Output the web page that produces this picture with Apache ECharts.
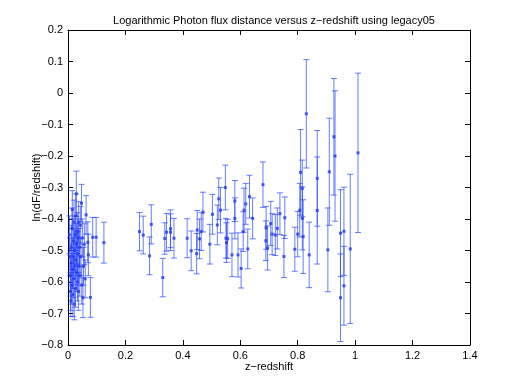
<!DOCTYPE html>
<html>
<head>
<meta charset="utf-8">
<script src="https://cdn.jsdelivr.net/npm/echarts@6/dist/echarts.min.js"></script>
<style>
  html, body { margin: 0; padding: 0; background: #fff; }
  #chart { width: 518px; height: 389px; }
</style>
</head>
<body>
<div id="chart"></div>
<script>
// z-redshift, ln(dF/redshift) and error half-widths
const zRedshift = [
  0.005, 0.007, 0.008, 0.009, 0.010, 0.011, 0.012, 0.013, 0.014, 0.015,
  0.016, 0.017, 0.018, 0.019, 0.020, 0.021, 0.022, 0.023, 0.024, 0.025,
  0.026, 0.027, 0.028, 0.029, 0.030, 0.031, 0.032, 0.033, 0.034, 0.035,
  0.036, 0.037, 0.038, 0.040, 0.041, 0.043, 0.045, 0.047, 0.048, 0.050,
  0.052, 0.054, 0.057, 0.060, 0.063, 0.069, 0.071, 0.078, 0.086, 0.098,
  0.125,
  0.249, 0.262, 0.290, 0.284, 0.330, 0.337, 0.343, 0.357, 0.357, 0.369,
  0.415, 0.429, 0.448, 0.450, 0.458, 0.464, 0.470, 0.494, 0.503, 0.520,
  0.525, 0.531, 0.548, 0.550, 0.552, 0.556, 0.571, 0.581, 0.581, 0.592,
  0.603, 0.610, 0.613, 0.619, 0.626, 0.632, 0.643, 0.679, 0.690, 0.689,
  0.695, 0.706, 0.711, 0.722, 0.729, 0.738,
  0.752, 0.755, 0.790, 0.800, 0.807, 0.810, 0.816, 0.816, 0.819, 0.830,
  0.840, 0.868, 0.868, 0.905, 0.910, 0.926, 0.930, 0.949, 0.961, 0.949,
  0.961, 0.983, 1.010
];
const lnFlux = [
  -0.45, -0.52, -0.58, -0.63, -0.66, -0.54, -0.49, -0.61, -0.43, -0.37,
  -0.56, -0.64, -0.47, -0.52, -0.59, -0.41, -0.67, -0.50, -0.55, -0.45,
  -0.62, -0.39, -0.53, -0.32, -0.48, -0.57, -0.44, -0.60, -0.51, -0.46,
  -0.63, -0.41, -0.55, -0.49, -0.58, -0.42, -0.52, -0.35, -0.61, -0.46,
  -0.65, -0.55, -0.48, -0.59, -0.387, -0.474, -0.514, -0.649, -0.458, -0.458,
  -0.475,
  -0.440, -0.451, -0.417, -0.517, -0.586, -0.462, -0.442, -0.431, -0.442, -0.461,
  -0.461, -0.501, -0.510, -0.435, -0.463, -0.440, -0.378, -0.480, -0.385, -0.419,
  -0.336, -0.372, -0.300, -0.461, -0.475, -0.463, -0.514, -0.343, -0.398, -0.514,
  -0.557, -0.440, -0.372, -0.352, -0.495, -0.329, -0.398, -0.291, -0.428, -0.469,
  -0.492, -0.414, -0.448, -0.451, -0.430, -0.383,
  -0.519, -0.396, -0.496, -0.448, -0.372, -0.252, -0.303, -0.398, -0.456, -0.066,
  -0.514, -0.271, -0.373, -0.498, -0.250, -0.139, -0.200, -0.445, -0.439, -0.650,
  -0.612, -0.495, -0.190
];
const errHalf = [
  0.060, 0.060, 0.065, 0.060, 0.050, 0.060, 0.070, 0.060, 0.065, 0.060,
  0.060, 0.070, 0.070, 0.060, 0.060, 0.070, 0.050, 0.065, 0.060, 0.060,
  0.060, 0.070, 0.060, 0.072, 0.065, 0.060, 0.060, 0.060, 0.070, 0.060,
  0.060, 0.065, 0.060, 0.060, 0.065, 0.060, 0.060, 0.060, 0.060, 0.060,
  0.063, 0.060, 0.065, 0.060, 0.061, 0.065, 0.066, 0.063, 0.063, 0.063,
  0.065,
  0.061, 0.060, 0.062, 0.060, 0.061, 0.050, 0.060, 0.060, 0.058, 0.063,
  0.062, 0.063, 0.064, 0.062, 0.063, 0.060, 0.063, 0.063, 0.063, 0.063,
  0.066, 0.072, 0.071, 0.063, 0.063, 0.062, 0.069, 0.065, 0.065, 0.070,
  0.062, 0.063, 0.070, 0.065, 0.063, 0.068, 0.065, 0.072, 0.068, 0.063,
  0.070, 0.070, 0.065, 0.065, 0.065, 0.066,
  0.067, 0.066, 0.070, 0.072, 0.085, 0.136, 0.090, 0.100, 0.117, 0.172,
  0.104, 0.152, 0.170, 0.133, 0.170, 0.185, 0.207, 0.138, 0.140, 0.139,
  0.125, 0.237, 0.253
];

const xTicks = [0, 0.2, 0.4, 0.6, 0.8, 1, 1.2, 1.4];
const yTicks = [-0.8, -0.7, -0.6, -0.5, -0.4, -0.3, -0.2, -0.1, 0, 0.1, 0.2];

const barColor = 'rgba(40, 70, 255, 0.7)';
const dotColor = '#2038f0';
const fontFamily = '"Liberation Sans", Arial, Helvetica, sans-serif';

const errData = zRedshift.map((z, i) => [z, lnFlux[i] - errHalf[i], lnFlux[i] + errHalf[i]]);
const pointData = zRedshift.map((z, i) => [z, lnFlux[i]]);

function fmt(v) {
  const s = String(Math.round(v * 10) / 10);
  return s.replace('-', '\u2212');
}

const chart = echarts.init(document.getElementById('chart'), null, { renderer: 'canvas' });

const axisLine = { onZero: false, lineStyle: { color: '#000', width: 1 } };
const axisTick = { inside: true, length: 5, lineStyle: { color: '#000' } };

const option = {
  backgroundColor: '#fff',
  animation: false,
  title: {
    text: 'Logarithmic Photon flux distance versus z\u2212redshift using legacy05',
    left: 269,
    top: 10,
    textAlign: 'center',
    textStyle: { fontSize: 11, fontWeight: 'normal', color: '#000', fontFamily }
  },
  grid: { left: 68, top: 30, width: 402, height: 315, containLabel: false },
  xAxis: [
    {
      type: 'value', min: 0, max: 1.4, interval: 0.2,
      name: 'z\u2212redshift', nameLocation: 'middle', nameGap: 16,
      nameMoveOverlap: false,
      nameTextStyle: { fontSize: 11, color: '#000', fontFamily },
      axisLine, axisTick, splitLine: { show: false },
      axisLabel: { margin: 5, fontSize: 11, color: '#000', fontFamily, formatter: fmt }
    },
    {
      type: 'value', min: 0, max: 1.4, interval: 0.2, position: 'top',
      axisLine, axisTick, splitLine: { show: false }, axisLabel: { show: false }
    }
  ],
  yAxis: [
    {
      type: 'value', min: -0.8, max: 0.2, interval: 0.1,
      name: 'ln(dF/redshift)', nameLocation: 'middle', nameGap: 26,
      nameMoveOverlap: false,
      nameTextStyle: { fontSize: 11, color: '#000', fontFamily },
      axisLine, axisTick, splitLine: { show: false },
      axisLabel: { margin: 5, fontSize: 11, color: '#000', fontFamily, formatter: fmt }
    },
    {
      type: 'value', min: -0.8, max: 0.2, interval: 0.1, position: 'right',
      axisLine, axisTick, splitLine: { show: false },
      axisLabel: { show: false }
    }
  ],
  series: [
    {
      type: 'custom',
      xAxisIndex: 0, yAxisIndex: 0,
      data: errData,
      renderItem: function (params, api) {
        const x = api.value(0);
        const lo = api.coord([x, api.value(1)]);
        const hi = api.coord([x, api.value(2)]);
        const cap = 3;
        const style = { stroke: barColor, lineWidth: 1 };
        return {
          type: 'group',
          children: [
            { type: 'line', shape: { x1: lo[0], y1: lo[1], x2: hi[0], y2: hi[1] }, style },
            { type: 'line', shape: { x1: lo[0] - cap, y1: lo[1], x2: lo[0] + cap, y2: lo[1] }, style },
            { type: 'line', shape: { x1: hi[0] - cap, y1: hi[1], x2: hi[0] + cap, y2: hi[1] }, style }
          ]
        };
      },
      z: 2
    },
    {
      type: 'scatter',
      xAxisIndex: 0, yAxisIndex: 0,
      data: pointData,
      symbol: 'rect',
      symbolSize: 3,
      itemStyle: { color: dotColor },
      z: 3
    }
  ]
};

chart.setOption(option);
</script>
</body>
</html>
